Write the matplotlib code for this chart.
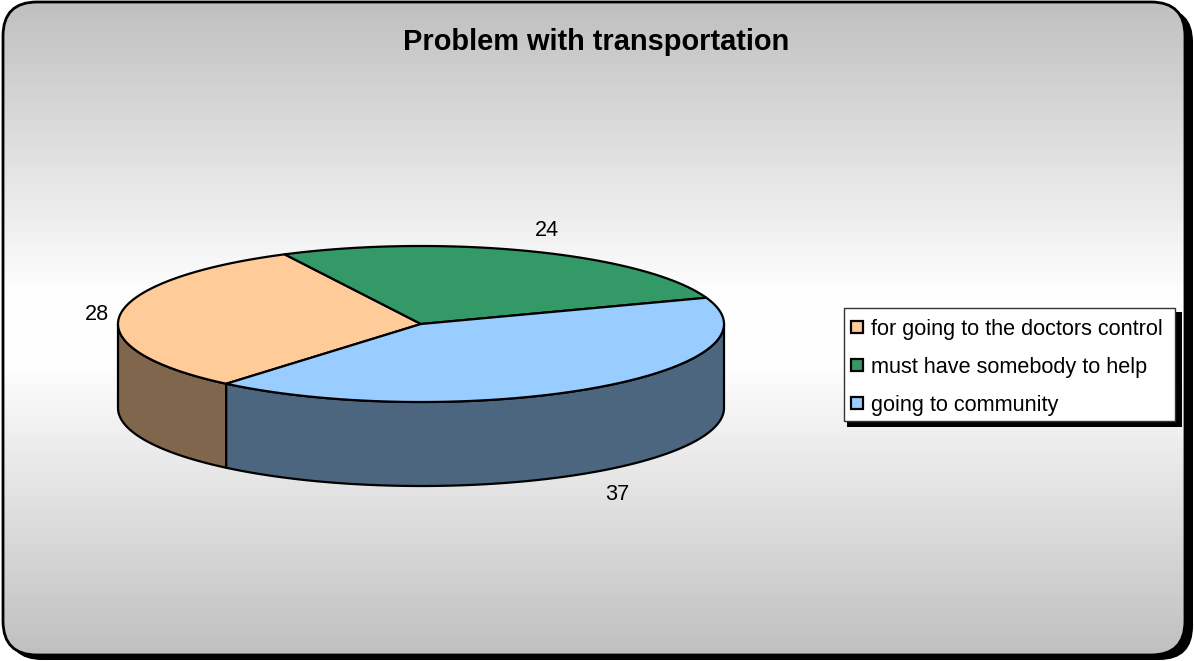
import numpy as np
import matplotlib
matplotlib.use('Agg')
import matplotlib.pyplot as plt
from matplotlib.colors import LinearSegmentedColormap
from matplotlib.patches import FancyBboxPatch, Polygon, Rectangle

title = 'Problem with transportation'
categories = ['for going to the doctors control', 'must have somebody to help', 'going to community']
values = [28, 24, 37]
top_colors = ['#FFCC99', '#339966', '#99CCFF']
side_colors = ['#80664D', '#339966', '#4D6680']

plt.rcParams['font.family'] = ['Liberation Sans', 'DejaVu Sans']

W, H = 1194, 661
fig = plt.figure(figsize=(W / 100, H / 100), dpi=100)
ax = fig.add_axes([0, 0, 1, 1])
ax.set_xlim(0, W)
ax.set_ylim(H, 0)
ax.axis('off')


def rounded(x0, y0, x1, y1, r, **kw):
    return FancyBboxPatch((x0 + r, y0 + r), x1 - x0 - 2 * r, y1 - y0 - 2 * r,
                          boxstyle='round,pad=%d,rounding_size=%d' % (r, r), **kw)


# shadow, then the chart area with its gradient
ax.add_patch(rounded(8, 8, 1193, 660, 34, fc='black', ec='black', lw=0, zorder=1))
ax.add_patch(rounded(3, 2, 1185, 655, 34, fc='none', ec='black', lw=2, zorder=3))
cmap = LinearSegmentedColormap.from_list('bg', ['#C0C0C0', '#FFFFFF', '#C0C0C0'])
grad = np.interp(np.linspace(0, 1, 661), [0, 0.45, 0.55, 1], [0, 0.5, 0.5, 1])[:, None]
img = ax.imshow(grad, cmap=cmap, vmin=0, vmax=1, extent=(3, 1185, 655, 2), aspect='auto', zorder=2)
img.set_clip_path(rounded(3, 2, 1185, 655, 34, transform=ax.transData))
ax.set_xlim(0, W)
ax.set_ylim(H, 0)

# pie geometry
cx, cy, rx, ry, depth = 421, 324, 303, 78, 84
start = 230.0
angles = start - np.cumsum([0] + values) / sum(values) * 360.0


def rim(a0, a1, n=200):
    t = np.radians(np.linspace(a0, a1, n))
    return np.column_stack([cx + rx * np.cos(t), cy - ry * np.sin(t)])


# sides: only the front part of the rim (sin < 0) is visible
for i, (a0, a1) in enumerate(zip(angles[:-1], angles[1:])):
    for shift in (0, -360, 360):
        lo = max(a1 + shift, -180)
        hi = min(a0 + shift, 0)
        if hi > lo:
            edge = rim(hi, lo)
            low = edge + [0, depth]
            ax.add_patch(Polygon(np.vstack([edge, low[::-1]]), closed=True, fc=side_colors[i],
                                 ec='black', lw=1.6, joinstyle='round', zorder=4))

# top faces
for i, (a0, a1) in enumerate(zip(angles[:-1], angles[1:])):
    ax.add_patch(Polygon(np.vstack([[cx, cy], rim(a0, a1)]), closed=True, fc=top_colors[i],
                         ec='black', lw=1.6, joinstyle='round', zorder=5))

# data labels
mids = [(0, 97, 314), (1, 547, 230), (2, 617, 494)]
for i, x, y in mids:
    ax.text(x, y, str(values[i]), fontsize=15.6, ha='center', va='center', color='black', zorder=6)

ax.text(596, 42, title, fontsize=20.9, fontweight='bold', ha='center', va='center', color='black', zorder=6)

# legend box
ax.add_patch(Rectangle((847, 312), 335, 115, fc='black', ec='none', zorder=6))
ax.add_patch(Rectangle((843.5, 308), 331.5, 113, fc='white', ec='#333333', lw=1, zorder=7))
for name, col, y in zip(categories, top_colors, [327, 365, 403]):
    ax.add_patch(Rectangle((851, y - 6), 12, 12, fc=col, ec='black', lw=1.6, zorder=8))
    ax.text(871, y + 2, name, fontsize=15.6, ha='left', va='center', color='black', zorder=8)

fig.savefig('out.png', dpi=100)
